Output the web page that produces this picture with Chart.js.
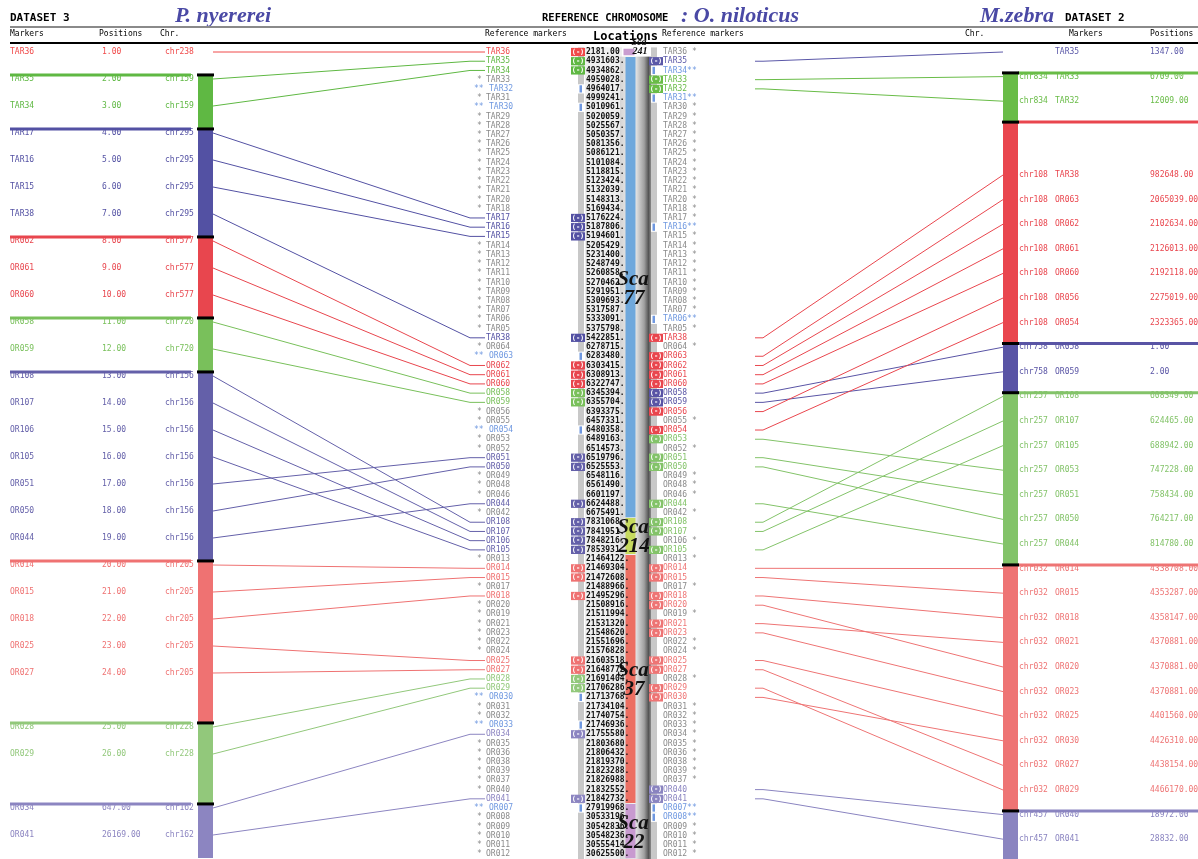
<!DOCTYPE html>
<html>
<head>
<meta charset="utf-8">
<script src="https://cdn.jsdelivr.net/npm/chart.js"></script>
<style>
  html, body { margin: 0; padding: 0; background: #fff; }
  #wrap { width: 1198px; height: 859px; position: relative; }
</style>
</head>
<body>
<div id="wrap"><canvas id="grafico"></canvas></div>
<script>
// reference chromosome (O. niloticus), top to bottom
const centerMarkers = ['TAR36','TAR35','TAR34','TAR33','TAR32','TAR31','TAR30','TAR29','TAR28','TAR27','TAR26','TAR25','TAR24','TAR23','TAR22','TAR21','TAR20','TAR18','TAR17','TAR16','TAR15','TAR14','TAR13','TAR12','TAR11','TAR10','TAR09','TAR08','TAR07','TAR06','TAR05','TAR38','OR064','OR063','OR062','OR061','OR060','OR058','OR059','OR056','OR055','OR054','OR053','OR052','OR051','OR050','OR049','OR048','OR046','OR044','OR042','OR108','OR107','OR106','OR105','OR013','OR014','OR015','OR017','OR018','OR020','OR019','OR021','OR023','OR022','OR024','OR025','OR027','OR028','OR029','OR030','OR031','OR032','OR033','OR034','OR035','OR036','OR038','OR039','OR037','OR040','OR041','OR007','OR008','OR009','OR010','OR011','OR012'];
const centerLocations = [2181, 4931603, 4934862, 4959028, 4964017, 4999241, 5010961, 5020059, 5025567, 5050357, 5081356, 5086121, 5101084, 5118815, 5123424, 5132039, 5148313, 5169434, 5176224, 5187806, 5194601, 5205429, 5231400, 5248749, 5260858, 5270462, 5291951, 5309693, 5317587, 5333091, 5375798, 5422851, 6278715, 6283480, 6303415, 6308913, 6322747, 6345394, 6355704, 6393375, 6457331, 6480358, 6489163, 6514573, 6519796, 6525553, 6548116, 6561490, 6601197, 6624488, 6675491, 7831068, 7841951, 7848216, 7853931, 21464122, 21469304, 21472608, 21488966, 21495296, 21508916, 21511994, 21531320, 21548620, 21551696, 21576828, 21603518, 21648772, 21691404, 21706286, 21713768, 21734104, 21740754, 21746936, 21755580, 21803680, 21806432, 21819370, 21823288, 21826988, 21832552, 21842732, 27919968, 30533196, 30542836, 30548236, 30555414, 30625500];
const scaffoldNames = ['241', '77', '214', '37', '22'];
const scaffoldStart = [0, 1, 51, 55, 82];
// markers flagged ** on each side of the reference
const leftDouble = ['TAR32', 'TAR30', 'OR063', 'OR054', 'OR030', 'OR033', 'OR007'];
const rightDouble = ['TAR34', 'TAR31', 'TAR16', 'TAR06', 'OR007', 'OR008'];

// dataset 3 - P. nyererei (null = empty row)
const leftMarkers = ['TAR36','TAR35','TAR34','TAR17','TAR16','TAR15','TAR38','OR062','OR061','OR060','OR058','OR059','OR108','OR107','OR106','OR105','OR051','OR050','OR044','OR014','OR015','OR018','OR025','OR027',null,'OR028','OR029',null,'OR034','OR041'];
const leftPositions = [1,2,3,4,5,6,7,8,9,10,11,12,13,14,15,16,17,18,19,20,21,22,23,24,null,25,26,null,647,26169];
const leftChr = ['chr238','chr159','chr159','chr295','chr295','chr295','chr295','chr577','chr577','chr577','chr720','chr720','chr156','chr156','chr156','chr156','chr156','chr156','chr156','chr205','chr205','chr205','chr205','chr205','chr205','chr228','chr228','chr228','chr162','chr162'];

// dataset 2 - M. zebra
const rightMarkers = ['TAR35','TAR33','TAR32',null,null,'TAR38','OR063','OR062','OR061','OR060','OR056','OR054','OR058','OR059','OR108','OR107','OR105','OR053','OR051','OR050','OR044','OR014','OR015','OR018','OR021','OR020','OR023','OR025','OR030','OR027','OR029','OR040','OR041'];
const rightPositions = [1347, 6709, 12009, null, null, 982648, 2065039, 2102634, 2126013, 2192118, 2275019, 2323365, 1, 2, 608349, 624465, 688942, 747228, 758434, 764217, 814780, 4338708, 4353287, 4358147, 4370881, 4370881, 4370881, 4401560, 4426310, 4438154, 4466170, 18972, 28832];
const rightChr = ['','chr834','chr834','chr108','chr108','chr108','chr108','chr108','chr108','chr108','chr108','chr108','chr758','chr758','chr257','chr257','chr257','chr257','chr257','chr257','chr257','chr032','chr032','chr032','chr032','chr032','chr032','chr032','chr032','chr032','chr032','chr457','chr457'];

// styles
const leftColors = {chr238:'#f04a4a', chr159:'#5fb843', chr295:'#5351a3', chr577:'#e8464e', chr720:'#79c05b', chr156:'#6460a9', chr205:'#ef7272', chr228:'#92c87b', chr162:'#8c85c1'};
const rightColors = {'':'#5b58a8', chr834:'#69bc47', chr108:'#e9464e', chr758:'#5954a5', chr257:'#83c369', chr032:'#ee7474', chr457:'#8a84c0'};
const scaffoldColors = ['#c99dd0', '#6fa8dc', '#c6da5e', '#ec6f62', '#c89ad0'];
const MONO = '"DejaVu Sans Mono", monospace';
const SERIF = '"Liberation Serif", serif';
const GREY = '#8a8a8a', LB = '#6f98e0', TITLE = '#4a49a5';
const TOP = 52, H = 859;
const LEFT_STEP = 27, CENTER_STEP = 9.22, RIGHT_STEP = 24.6;

function groups(chrs) {
  const out = [];
  chrs.forEach((c, i) => {
    const last = out[out.length - 1];
    if (last && last.chr === c) last.end = i; else out.push({ chr: c, start: i, end: i });
  });
  return out;
}

function rowAxis(step) {
  return { type: 'linear', display: false, reverse: true, min: -TOP / step, max: (H - TOP) / step };
}

const datasets = [];
function addLine(data, color, width, yAxisID, order) {
  datasets.push({
    data: data, borderColor: color, backgroundColor: color, borderWidth: width,
    yAxisID: yAxisID, xAxisID: 'x', showLine: true, pointRadius: 0, pointHoverRadius: 0,
    borderCapStyle: 'butt', tension: 0, order: order, clip: false
  });
}

// links left dataset -> reference
leftMarkers.forEach((m, i) => {
  const c = m ? centerMarkers.indexOf(m) : -1;
  if (c < 0) return;
  const col = leftColors[leftChr[i]];
  addLine([{ x: 213, y: i * LEFT_STEP / CENTER_STEP }, { x: 470, y: c }, { x: 485, y: c }], col, 1, 'yC', 3);
});
// links reference -> right dataset
rightMarkers.forEach((m, i) => {
  const c = m ? centerMarkers.indexOf(m) : -1;
  if (c < 0) return;
  const col = rightColors[rightChr[i]];
  addLine([{ x: 755, y: c }, { x: 763, y: c }, { x: 1003, y: i * RIGHT_STEP / CENTER_STEP }], col, 1, 'yC', 3);
});

// chromosome bars, group lines and separators
groups(leftChr).forEach(g => {
  if (g.end === g.start) return;
  const col = leftColors[g.chr], s = g.start - 0.15;
  addLine([{ x: 205.5, y: s }, { x: 205.5, y: g.end + 0.85 }], col, 15, 'yL', 2);
  addLine([{ x: 10, y: s }, { x: 191, y: s }], col, 3, 'yL', 2);
  addLine([{ x: 197, y: s }, { x: 214, y: s }], '#000', 3, 'yL', 0);
});
groups(rightChr).forEach(g => {
  if (g.end === g.start) return;
  const col = rightColors[g.chr], s = g.start - 0.15;
  addLine([{ x: 1010.5, y: s }, { x: 1010.5, y: g.end + 0.85 }], col, 15, 'yR', 2);
  addLine([{ x: 1018, y: s }, { x: 1198, y: s }], col, 3, 'yR', 2);
  addLine([{ x: 1002, y: s }, { x: 1019, y: s }], '#000', 3, 'yR', 0);
});

// scaffolds on the reference
scaffoldNames.forEach((n, k) => {
  const start = scaffoldStart[k];
  const end = (k + 1 < scaffoldStart.length ? scaffoldStart[k + 1] : centerMarkers.length) - 1;
  if (k === 0) addLine([{ x: 629, y: start - 0.35 }, { x: 629, y: end + 0.35 }], scaffoldColors[k], 11, 'yC', 1);
  else addLine([{ x: 630.5, y: start - 0.45 }, { x: 630.5, y: end + 0.45 }], scaffoldColors[k], 10, 'yC', 1);
});

function fmtLoc(v) { return v < 100000 ? v.toFixed(2) : v + '.'; }

const diagram = {
  id: 'diagram',
  beforeDatasetsDraw(chart) {
    const { ctx, scales: { x, yC } } = chart;
    const X = v => x.getPixelForValue(v);
    const top = yC.getPixelForValue(-0.5), bottom = chart.chartArea.bottom;
    ctx.save();
    ctx.fillStyle = '#efefef';
    ctx.fillRect(X(585), top, 37, bottom - top);
    const x0 = X(620), x1 = X(651);
    const g = ctx.createLinearGradient(x0, 0, x1, 0);
    g.addColorStop(0, '#d4d4d4');
    g.addColorStop(0.45, '#f3f3f3');
    g.addColorStop(0.78, '#a0a0a0');
    g.addColorStop(0.92, '#555');
    g.addColorStop(1, '#8a8a8a');
    ctx.fillStyle = g;
    ctx.fillRect(x0, yC.getPixelForValue(0.5), x1 - x0, bottom - yC.getPixelForValue(0.5));
    ctx.fillStyle = '#c8c8c8';
    ctx.fillRect(X(578), top, 6, bottom - top);
    ctx.fillRect(X(651), top, 6, bottom - top);
    ctx.restore();
  },
  afterDatasetsDraw(chart) {
    const { ctx, scales: { x, yL, yC, yR } } = chart;
    const X = v => x.getPixelForValue(v);
    const F8 = '8px ' + MONO;
    function text(s, px, py, font, color, align) {
      ctx.font = font; ctx.fillStyle = color; ctx.textAlign = align || 'left';
      ctx.fillText(s, px, py);
    }
    ctx.save();
    ctx.textBaseline = 'middle';

    // headers
    text('DATASET 3', X(10), 18, 'bold 11px ' + MONO, '#000');
    text('P. nyererei', X(175), 16, 'bold italic 22px ' + SERIF, TITLE);
    text('REFERENCE CHROMOSOME', X(542), 18, 'bold 10.5px ' + MONO, '#000');
    text(': O. niloticus', X(681), 16, 'bold italic 22px ' + SERIF, TITLE);
    text('M.zebra', X(980), 16, 'bold italic 22px ' + SERIF, TITLE);
    text('DATASET 2', X(1065), 18, 'bold 11px ' + MONO, '#000');
    ctx.fillStyle = '#8a8a8a'; ctx.fillRect(X(10), 26, 1188, 2);
    text('Markers', X(10), 34, F8, '#000');
    text('Positions', X(99), 34, F8, '#000');
    text('Chr.', X(160), 34, F8, '#000');
    text('Reference markers', X(485), 34, F8, '#000');
    text('Locations', X(593), 37, 'bold 12px ' + MONO, '#000');
    text('Reference markers', X(662), 34, F8, '#000');
    text('Chr.', X(965), 34, F8, '#000');
    text('Markers', X(1069), 34, F8, '#000');
    text('Positions', X(1150), 34, F8, '#000');
    ctx.fillStyle = '#000'; ctx.fillRect(X(10), 42, 1188, 2);

    // dataset 3 table
    leftMarkers.forEach((m, i) => {
      if (!m) return;
      const y = yL.getPixelForValue(i), col = leftColors[leftChr[i]];
      text(m, X(10), y, F8, col);
      text(leftPositions[i].toFixed(2), X(102), y, F8, col);
      text(leftChr[i], X(165), y, F8, col);
    });
    // dataset 2 table
    rightMarkers.forEach((m, i) => {
      if (!m) return;
      const y = yR.getPixelForValue(i), col = rightColors[rightChr[i]];
      if (rightChr[i]) text(rightChr[i], X(1019), y, F8, col);
      text(m, X(1055), y, F8, col);
      text(rightPositions[i].toFixed(2), X(1150), y, F8, col);
    });

    // reference column
    const rowH = Math.abs(yC.getPixelForValue(1) - yC.getPixelForValue(0));
    function box(px, py, col) {
      ctx.fillStyle = col;
      ctx.fillRect(px, py - rowH / 2 + 0.5, 14, rowH - 1);
      text('(-)', px + 7, py, 'bold 7px ' + MONO, '#fff', 'center');
    }
    function dbl(px, py) {
      ctx.fillStyle = '#fff'; ctx.fillRect(px - 1.5, py - rowH / 2, 6, rowH);
      ctx.fillStyle = LB; ctx.fillRect(px, py - rowH / 2 + 1, 2.5, rowH - 2);
    }
    centerMarkers.forEach((m, i) => {
      const y = yC.getPixelForValue(i);
      text(fmtLoc(centerLocations[i]), X(586), y, 'bold 8px ' + MONO, '#111');
      const li = leftMarkers.indexOf(m);
      if (li >= 0) {
        const col = leftColors[leftChr[li]];
        box(X(571), y, col);
        text(m, X(486), y, F8, col);
      } else if (leftDouble.includes(m)) {
        dbl(X(579.5), y);
        text('**', X(474), y, F8, LB);
        text(m, X(489), y, F8, LB);
      } else {
        text('*', X(477), y, F8, GREY);
        text(m, X(486), y, F8, GREY);
      }
      const ri = rightMarkers.indexOf(m);
      if (ri >= 0) {
        const col = rightColors[rightChr[ri]];
        box(X(649), y, col);
        text(m, X(663), y, F8, col);
      } else if (rightDouble.includes(m)) {
        dbl(X(652.5), y);
        text(m + '**', X(663), y, F8, LB);
      } else {
        text(m + ' *', X(663), y, F8, GREY);
      }
    });

    // scaffold labels
    scaffoldNames.forEach((n, k) => {
      const start = scaffoldStart[k];
      const end = (k + 1 < scaffoldStart.length ? scaffoldStart[k + 1] : centerMarkers.length) - 1;
      if (k === 0) {
        text('Sca', X(639), yC.getPixelForValue(start) - 10, 'bold italic 10px ' + SERIF, '#111', 'center');
        text(n, X(640), yC.getPixelForValue(start) - 1, 'bold italic 10px ' + SERIF, '#111', 'center');
      } else {
        const mid = yC.getPixelForValue((start + end) / 2);
        text('Sca', X(633), mid - 8, 'bold italic 21px ' + SERIF, '#111', 'center');
        text(n, X(634), mid + 11, 'bold italic 21px ' + SERIF, '#111', 'center');
      }
    });
    ctx.restore();
  }
};

new Chart(document.getElementById('grafico').getContext('2d'), {
  type: 'scatter',
  data: { datasets: datasets },
  options: {
    responsive: true,
    maintainAspectRatio: false,
    animation: false,
    devicePixelRatio: 1,
    layout: { padding: 0 },
    events: [],
    plugins: { legend: { display: false }, tooltip: { enabled: false } },
    scales: {
      x: { type: 'linear', display: false, min: 0, max: 1198 },
      yL: rowAxis(LEFT_STEP),
      yC: rowAxis(CENTER_STEP),
      yR: rowAxis(RIGHT_STEP)
    }
  },
  plugins: [diagram]
});
</script>
</body>
</html>
